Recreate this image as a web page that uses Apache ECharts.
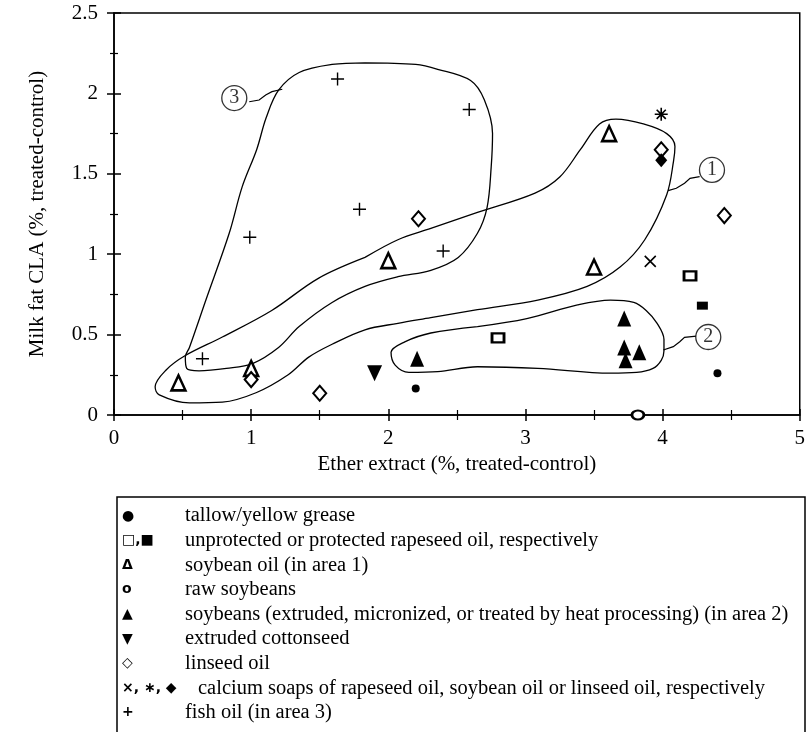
<!DOCTYPE html>
<html><head><meta charset="utf-8">
<script src="https://cdn.jsdelivr.net/npm/echarts@6/dist/echarts.min.js"></script>
<style>html,body{margin:0;padding:0;background:#fff}#c{width:808px;height:732px}</style>
</head><body><div id="c"></div>
<script>
// ---- tick labels ----
const xTickLabels = ['0','1','2','3','4','5'];
const yTickLabels = ['0','0.5','1','1.5','2','2.5'];
// ---- data (x = ether extract, y = milk fat CLA) ----
const tallow = [[2.2,0.165],[4.4,0.26]];
const rapeseedUnprotected = [[2.8,0.48],[4.2,0.865]];
const rapeseedProtected = [[4.29,0.68]];
const soybeanOil = [[0.47,0.2],[1.0,0.29],[2.0,0.96],[3.5,0.92],[3.61,1.75]];
const rawSoybeans = [[3.82,0.0]];
const soybeansTreated = [[2.21,0.35],[3.72,0.6],[3.72,0.42],[3.73,0.34],[3.83,0.39]];
const cottonseed = [[1.9,0.26]];
const linseedOil = [[1.0,0.22],[1.5,0.135],[2.22,1.22],[3.99,1.65],[4.45,1.24]];
const caSoapRapeseed = [[3.91,0.955]];
const caSoapSoybean = [[3.99,1.87]];
const caSoapLinseed = [[3.99,1.585]];
const fishOil = [[0.645,0.35],[0.99,1.105],[1.63,2.09],[1.79,1.28],[2.4,1.02],[2.59,1.9]];
// ---- hand-drawn areas (closed outlines) ----
const area1 = [[1.83,0.98],[2.07,1.09],[2.31,1.16],[2.65,1.26],[3.07,1.38],[3.25,1.48],[3.40,1.65],[3.54,1.81],[3.66,1.84],[3.86,1.81],[4.03,1.75],[4.09,1.67],[4.08,1.58],[4.03,1.37],[3.87,1.09],[3.69,0.92],[3.45,0.80],[3.09,0.715],[2.65,0.655],[2.31,0.605],[2.07,0.57],[1.83,0.53],[1.59,0.44],[1.42,0.36],[1.27,0.25],[1.04,0.14],[0.79,0.08],[0.55,0.075],[0.33,0.125],[0.30,0.175],[0.38,0.28],[0.52,0.37],[0.79,0.485],[1.15,0.65],[1.49,0.85],[1.83,0.98]];
const area2 = [[2.65,0.55],[3.01,0.60],[3.38,0.685],[3.62,0.715],[3.79,0.70],[3.88,0.65],[3.96,0.57],[4.01,0.47],[4.01,0.40],[3.99,0.34],[3.93,0.29],[3.81,0.265],[3.62,0.26],[3.09,0.29],[2.65,0.30],[2.36,0.27],[2.15,0.265],[2.05,0.31],[2.02,0.39],[2.12,0.455],[2.31,0.51],[2.65,0.55]];
const area3 = [[1.83,2.19],[2.20,2.18],[2.36,2.15],[2.60,2.08],[2.70,1.96],[2.76,1.75],[2.75,1.54],[2.72,1.29],[2.65,1.13],[2.51,0.98],[2.31,0.90],[2.07,0.86],[1.83,0.80],[1.59,0.70],[1.35,0.55],[1.20,0.42],[1.01,0.32],[0.82,0.29],[0.62,0.275],[0.53,0.29],[0.52,0.36],[0.55,0.42],[0.67,0.715],[0.84,1.13],[0.935,1.42],[1.04,1.65],[1.11,1.85],[1.20,2.02],[1.35,2.13],[1.59,2.18],[1.83,2.19]];
// ---- callouts ----
const calloutLabels = ['1','2','3'];
const calloutCenters = [[4.36,1.524],[4.333,0.485],[0.877,1.971]];
const calloutPaths = [
  [[4.27,1.482],[4.20,1.472],[4.16,1.441],[4.10,1.410],[4.04,1.395]],
  [[4.246,0.491],[4.16,0.483],[4.125,0.456],[4.078,0.425],[4.005,0.404]],
  [[0.986,1.948],[1.058,1.959],[1.106,1.990],[1.152,2.011],[1.227,2.026]]
];
// ---- legend ----
const legendSymbols = ['●','□,■','Δ','o','▲','▼','◇','×, ∗, ◆','+'];
const legendLabels = [
 'tallow/yellow grease',
 'unprotected or protected rapeseed oil, respectively',
 'soybean oil (in area 1)',
 'raw soybeans',
 'soybeans (extruded, micronized, or treated by heat processing) (in area 2)',
 'extruded cottonseed',
 'linseed oil',
 'calcium soaps of rapeseed oil, soybean oil or linseed oil, respectively',
 'fish oil (in area 3)'
];

const FONT = '"Liberation Serif", "DejaVu Serif", serif';
const chart = echarts.init(document.getElementById('c'), null, {renderer:'canvas'});

function scatter(name, data, symbol, size, fill, bw, rotate){
  return {type:'scatter', name, data, symbol, symbolSize:size, symbolRotate:rotate||0,
    itemStyle:{color:fill, borderColor:'#000', borderWidth:bw, opacity:1}, z:5, silent:true};
}
function outline(data){
  return {type:'line', data, smooth:0.35, showSymbol:false, symbol:'none', clip:false,
    lineStyle:{color:'#000', width:1.3}, z:3, silent:true};
}
const PLUS='path://M0,5L10,5M5,0L5,10';
const CROSS='path://M0,0L10,10M10,0L0,10';
const STAR='path://M5,0L5,10M0,5L10,5M1.5,1.5L8.5,8.5M8.5,1.5L1.5,8.5';

const axisCommon = {min:0, splitLine:{show:false}, axisLine:{lineStyle:{color:'#000', width:1.5}}};

const legendGraphics = [{type:'rect', shape:{x:117, y:497, width:688, height:300}, style:{fill:'none', stroke:'#000', lineWidth:1.5}, silent:true}];
legendSymbols.forEach((s,i)=>{
  const y = 516 + i*24.6;
  legendGraphics.push({type:'text', x:122, y:y, style:{text:s, font:'bold 14px "DejaVu Sans"', fill:'#000', verticalAlign:'middle'}, silent:true});
  legendGraphics.push({type:'text', x: (i===7?198:185), y:y, style:{text:legendLabels[i], font:'20.5px '+FONT, fill:'#000', verticalAlign:'middle'}, silent:true});
});

chart.setOption({
  animation:false,
  backgroundColor:'#fff',
  grid:{left:114, right:4, top:13, bottom:317, show:true, borderColor:'#000', borderWidth:1.5, backgroundColor:'transparent'},
  xAxis:[
    Object.assign({}, axisCommon, {type:'value', max:5, interval:1, position:'bottom',
      name:'Ether extract (%, treated-control)', nameLocation:'middle', nameGap:36,
      nameTextStyle:{fontFamily:FONT, fontSize:21, color:'#000'},
      axisTick:{show:true, length:6, inside:false, lineStyle:{color:'#000', width:1.5}},
      minorTick:{show:true, splitNumber:2, length:5, lineStyle:{color:'#000', width:1.2}},
      axisLabel:{fontFamily:FONT, fontSize:21, color:'#000', margin:13, formatter:(v)=>xTickLabels[Math.round(v)]}}),
    Object.assign({}, axisCommon, {type:'value', max:5, interval:1, position:'bottom',
      axisLine:{show:false},
      axisTick:{show:true, length:6, inside:true, lineStyle:{color:'#000', width:1.5}},
      minorTick:{show:true, splitNumber:2, length:5, lineStyle:{color:'#000', width:1.2}},
      axisLabel:{show:false}})
  ],
  yAxis:[
    Object.assign({}, axisCommon, {type:'value', max:2.5, interval:0.5, position:'left',
      name:'Milk fat CLA (%, treated-control)', nameLocation:'middle', nameGap:66, nameRotate:90,
      nameTextStyle:{fontFamily:FONT, fontSize:21, color:'#000'},
      axisTick:{show:true, length:7, inside:false, lineStyle:{color:'#000', width:1.5}},
      minorTick:{show:true, splitNumber:2, length:4, lineStyle:{color:'#000', width:1.2}},
      axisLabel:{fontFamily:FONT, fontSize:21, color:'#000', margin:16, formatter:(v)=>yTickLabels[Math.round(v*2)]}}),
    Object.assign({}, axisCommon, {type:'value', max:2.5, interval:0.5, position:'left',
      axisLine:{show:false},
      axisTick:{show:true, length:7, inside:true, lineStyle:{color:'#000', width:1.5}},
      minorTick:{show:true, splitNumber:2, length:4, lineStyle:{color:'#000', width:1.2}},
      axisLabel:{show:false}})
  ],
  series:[
    outline(area1), outline(area2), outline(area3),
    scatter('tallow', tallow, 'circle', 8, '#000', 0),
    scatter('rapeseed unprotected', rapeseedUnprotected, 'rect', [12,9], '#fff', 2.5),
    scatter('rapeseed protected', rapeseedProtected, 'rect', [11,8], '#000', 0),
    scatter('soybean oil', soybeanOil, 'triangle', [14,15], '#fff', 2.5),
    scatter('raw soybeans', rawSoybeans, 'circle', [12,9], '#fff', 2.5),
    scatter('soybeans treated', soybeansTreated, 'triangle', [14,16], '#000', 0),
    scatter('cottonseed', cottonseed, 'triangle', [15,16], '#000', 0, 180),
    scatter('linseed oil', linseedOil, 'diamond', [13,15], '#fff', 2),
    scatter('Ca soap rapeseed', caSoapRapeseed, CROSS, 11, 'none', 1.6),
    scatter('Ca soap soybean', caSoapSoybean, STAR, 13, 'none', 1.6),
    scatter('Ca soap linseed', caSoapLinseed, 'diamond', [12,14], '#000', 0),
    scatter('fish oil', fishOil, PLUS, 13, 'none', 1.4),
    {type:'lines', coordinateSystem:'cartesian2d', polyline:true, silent:true, z:4,
      symbol:['none','arrow'], symbolSize:10,
      lineStyle:{color:'#000', width:1.2, opacity:1},
      data: calloutPaths.map(p=>({coords:p}))},
    {type:'scatter', data: calloutCenters.map((c,i)=>[c[0],c[1],calloutLabels[i]]), symbol:'circle', symbolSize:25, z:6, silent:true,
      itemStyle:{color:'#fff', borderColor:'#000', borderWidth:1.3},
      label:{show:true, position:'inside', formatter:(p)=>p.value[2], fontFamily:FONT, fontSize:20, color:'#000'}}
  ],
  graphic: legendGraphics
});
</script></body></html>
